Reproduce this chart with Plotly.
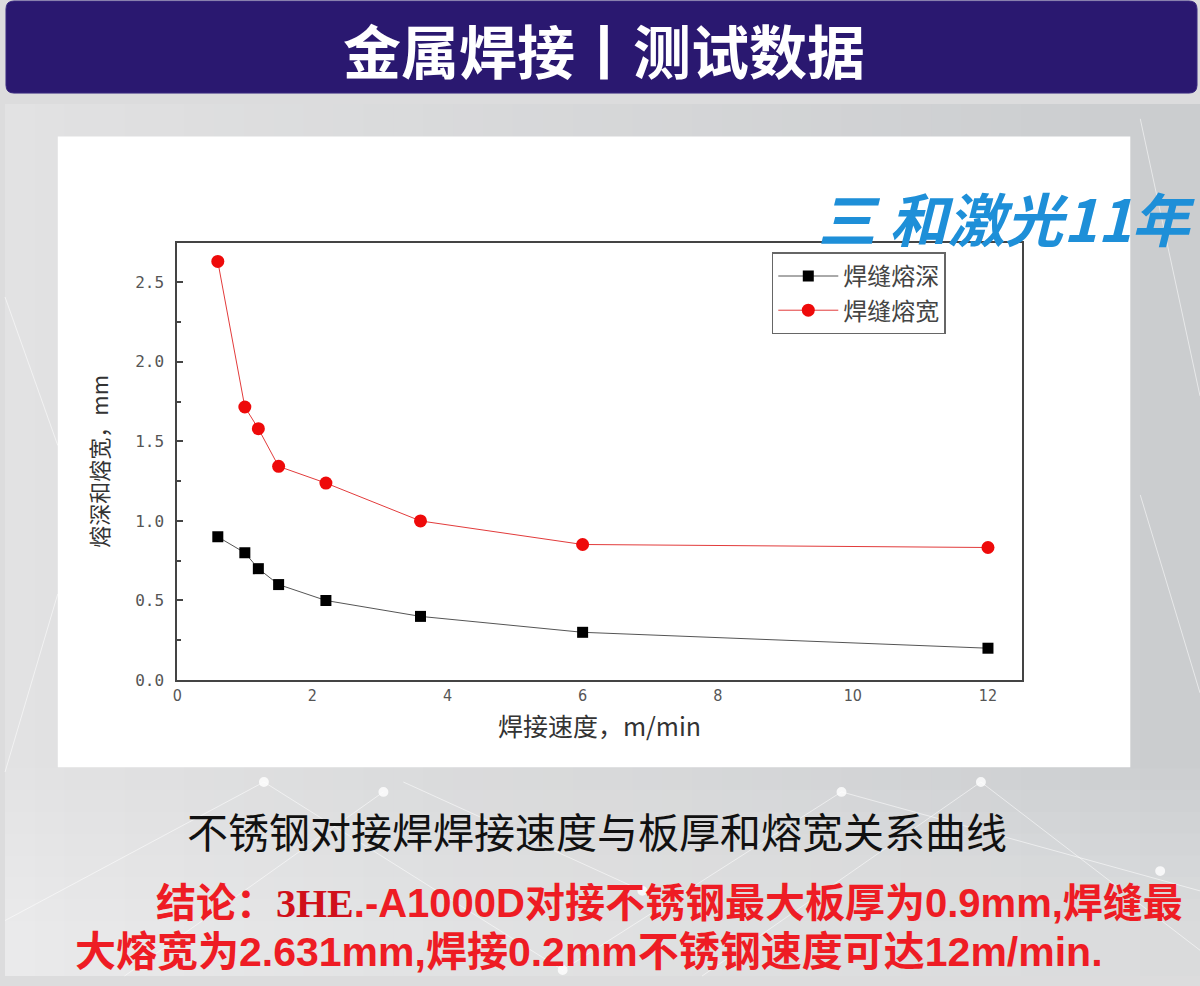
import plotly.graph_objects as go

# ---- data ----
speed = [0.6, 1.0, 1.2, 1.5, 2.2, 3.6, 6.0, 12.0]
depth = [0.9, 0.8, 0.7, 0.6, 0.5, 0.4, 0.3, 0.2]
width_ = [2.631, 1.716, 1.58, 1.343, 1.238, 1.0, 0.852, 0.833]
series_names = ["焊缝熔深", "焊缝熔宽"]
y_ticks = [0.0, 0.5, 1.0, 1.5, 2.0, 2.5]
x_ticks = [0, 2, 4, 6, 8, 10, 12]

W, H = 1200, 986
CJK = "Noto Sans CJK SC"

fig = go.Figure()
fig.add_trace(go.Scatter(
    x=speed, y=depth, name=series_names[0], mode="lines+markers",
    line=dict(color="#555555", width=1),
    marker=dict(symbol="square", size=11, color="#000000"),
))
fig.add_trace(go.Scatter(
    x=speed, y=width_, name=series_names[1], mode="lines+markers",
    line=dict(color="#e23b3b", width=1),
    marker=dict(symbol="circle", size=13, color="#ee0a0a"),
))

shapes = []
# background gradient (grey)
n = 40
for i in range(n):
    t = i / (n - 1)
    c0 = (226, 226, 227)
    c1 = (203, 205, 207)
    c = tuple(int(c0[k] + (c1[k] - c0[k]) * t) for k in range(3))
    shapes.append(dict(type="rect", xref="paper", yref="paper",
                       x0=i / n, x1=(i + 1) / n + 0.002, y0=0, y1=1 - 105 / H,
                       fillcolor="rgb(%d,%d,%d)" % c, line=dict(width=0), layer="below"))
# lighter bottom haze
for j in range(8):
    shapes.append(dict(type="rect", xref="paper", yref="paper",
                       x0=0, x1=1, y0=0, y1=(210 - j * 22) / H,
                       fillcolor="rgba(255,255,255,0.05)", line=dict(width=0), layer="below"))
# network lines (decorative)
net = [((0, 930), (260, 790)), ((260, 790), (560, 980)), ((560, 980), (840, 800)),
       ((840, 800), (1200, 900)), ((120, 986), (380, 800)), ((700, 986), (980, 790)),
       ((980, 790), (1200, 960)), ((400, 790), (640, 900)), ((1140, 120), (1200, 400)),
       ((1140, 500), (1200, 700)), ((0, 780), (53, 600)), ((0, 300), (53, 450))]
for (a, b) in net:
    shapes.append(dict(type="line", xref="paper", yref="paper",
                       x0=a[0] / W, y0=1 - a[1] / H, x1=b[0] / W, y1=1 - b[1] / H,
                       line=dict(color="rgba(255,255,255,0.55)", width=1), layer="below"))
for (cx, cy) in [(260, 790), (560, 980), (840, 800), (380, 800), (980, 790), (640, 900), (1160, 880)]:
    shapes.append(dict(type="circle", xref="paper", yref="paper",
                       x0=(cx - 5) / W, x1=(cx + 5) / W, y0=1 - (cy + 5) / H, y1=1 - (cy - 5) / H,
                       fillcolor="rgba(255,255,255,0.8)", line=dict(width=0), layer="below"))
# title bar (rounded)
r = 8
x0, x1, y0, y1 = 1, 1197, 1, 94
def P(x, y):
    return "%f,%f" % (x / W, 1 - y / H)
path = ("M %s L %s Q %s %s L %s Q %s %s L %s Q %s %s L %s Q %s %s Z" % (
    P(x0 + r, y0), P(x1 - r, y0), P(x1, y0), P(x1, y0 + r), P(x1, y1 - r), P(x1, y1), P(x1 - r, y1),
    P(x0 + r, y1), P(x0, y1), P(x0, y1 - r), P(x0, y0 + r), P(x0, y0), P(x0 + r, y0)))
shapes.append(dict(type="path", xref="paper", yref="paper", path=path,
                   fillcolor="#2a1870", line=dict(color="#3a2a80", width=1), layer="below"))
# white chart panel
shapes.append(dict(type="rect", xref="paper", yref="paper",
                   x0=53 / W, x1=1130 / W, y0=1 - 775 / H, y1=1 - 138 / H,
                   fillcolor="#ffffff", line=dict(width=0), layer="below"))

annotations = [
    dict(text="<b>金属焊接丨测试数据</b>", x=602 / W, y=1 - 49 / H, xref="paper", yref="paper",
         showarrow=False, font=dict(family=CJK, size=58, color="#ffffff"), xanchor="center", yanchor="middle"),
    dict(text="<i><b>三 和激光11年</b></i>", x=1198 / W, y=1 - 219 / H, xref="paper", yref="paper",
         showarrow=False, font=dict(family=CJK, size=58, color="#1e8fd8"), xanchor="right", yanchor="middle"),
    dict(text="不锈钢对接焊焊接速度与板厚和熔宽关系曲线", x=594 / W, y=1 - 838 / H, xref="paper", yref="paper",
         showarrow=False, font=dict(family=CJK, size=41, color="#111111"), xanchor="center", yanchor="middle"),
    dict(text=("<b>结论：<span style='font-family:Liberation Serif;color:#d0101a'>3HE</span>"
               ".-A1000D对接不锈钢最大板厚为0.9mm,焊缝最</b>"),
         x=150 / W, y=1 - 913 / H, xref="paper", yref="paper",
         showarrow=False, font=dict(family="Liberation Sans, " + CJK, size=40, color="#ee1c24"),
         xanchor="left", yanchor="middle"),
    dict(text="<b>大熔宽为2.631mm,焊接0.2mm不锈钢速度可达12m/min.</b>",
         x=68 / W, y=1 - 962 / H, xref="paper", yref="paper",
         showarrow=False, font=dict(family="Liberation Sans, " + CJK, size=41, color="#ee1c24"),
         xanchor="left", yanchor="middle"),
]

fig.update_layout(
    width=W, height=H, autosize=False,
    margin=dict(l=0, r=0, t=0, b=0),
    paper_bgcolor="#dcdcdd", plot_bgcolor="#ffffff",
    shapes=shapes, annotations=annotations,
    showlegend=True,
    legend=dict(x=770 / W, y=1 - 255 / H, xanchor="left", yanchor="top",
                bgcolor="#ffffff", bordercolor="#666666", borderwidth=1.5,
                font=dict(family=CJK, size=24, color="#444444"),
                itemwidth=60, tracegroupgap=0),
    xaxis=dict(domain=[173 / W, 1021 / W], range=[0, 12.5], tickvals=x_ticks,
               showline=True, linecolor="#444444", linewidth=2, mirror=True,
               showgrid=False, zeroline=False, ticks="",
               tickfont=dict(family="DejaVu Sans Condensed, DejaVu Sans", size=16, color="#555555"),
               title=dict(text="焊接速度，m/min", font=dict(family=CJK, size=25, color="#333333"), standoff=14)),
    yaxis=dict(domain=[1 - 687 / H, 1 - 245 / H], range=[0, 2.75], tickvals=y_ticks, tickformat=".1f",
               showline=True, linecolor="#444444", linewidth=2, mirror=True,
               showgrid=False, zeroline=False, ticks="inside", ticklen=6, tickwidth=2, tickcolor="#444444",
               minor=dict(dtick=0.25, ticks="inside", ticklen=4, tickwidth=2, tickcolor="#444444"),
               tickfont=dict(family="DejaVu Sans Mono", size=16, color="#555555"),
               ticklabelstandoff=8,
               title=dict(text="熔深和熔宽，mm", font=dict(family=CJK, size=22, color="#333333"), standoff=20)),
)

fig.write_html("out.html",
               config={"displayModeBar": False, "responsive": False},
               post_script="document.body.style.margin='0';document.body.style.overflow='hidden';")
